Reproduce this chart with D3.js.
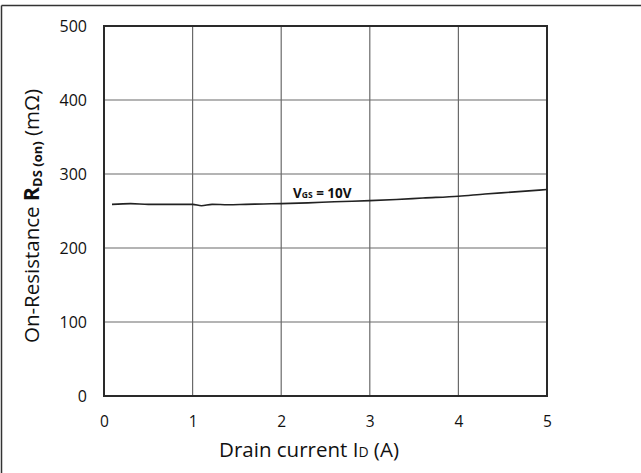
<!DOCTYPE html>
<html><head><meta charset="utf-8">
<script src="https://cdn.jsdelivr.net/npm/d3@7/dist/d3.min.js"></script>
<style>body{margin:0;background:#fff}svg{display:block}text{font-family:"Open Sans",Lato,sans-serif;fill:#111}</style>
</head><body><svg id="c" width="641" height="473"></svg>
<script>
const currentA = [0.09, 0.3, 0.5, 0.8, 1.0, 1.1, 1.22, 1.4, 1.6, 1.8, 2.0, 2.3, 2.6, 3.0, 3.3, 3.6, 4.0, 4.3, 4.6, 5.0];
const rdsOn    = [259, 260, 259, 259, 259, 257, 259, 258.5, 259, 259.5, 260, 261, 262.5, 264, 265.5, 267.5, 270, 273, 275.5, 279];
const xTicks = [0, 1, 2, 3, 4, 5];
const yTicks = [0, 100, 200, 300, 400, 500];
const seriesLabel = "10V";

const svg = d3.select("#c");
const L = 104, R = 547, T = 26, B = 396;
const x = d3.scaleLinear().domain([0, 5]).range([L, R]);
const y = d3.scaleLinear().domain([0, 500]).range([B, T]);
const FONT = "'Open Sans',Lato,sans-serif";

// outer frame
svg.append("line").attr("x1",1.5).attr("x2",1.5).attr("y1",5.5).attr("y2",473).attr("stroke","#333").attr("stroke-width",1.5);
svg.append("line").attr("x1",1.5).attr("x2",641).attr("y1",5.5).attr("y2",5.5).attr("stroke","#333").attr("stroke-width",1.5);

// gridlines
svg.append("g").selectAll("line").data(xTicks.slice(1,-1)).join("line")
  .attr("x1",d=>x(d)).attr("x2",d=>x(d)).attr("y1",T).attr("y2",B).attr("stroke","#6a6a6a").attr("stroke-width",1.2);
svg.append("g").selectAll("line").data(yTicks.slice(1,-1)).join("line")
  .attr("x1",L).attr("x2",R).attr("y1",d=>y(d)).attr("y2",d=>y(d)).attr("stroke","#6a6a6a").attr("stroke-width",1.2);

// axes labels via d3 axes
const xAxis = svg.append("g").attr("transform",`translate(0,${B})`)
  .call(d3.axisBottom(x).tickValues(xTicks).tickSize(0).tickPadding(20).tickFormat(d3.format("d")));
xAxis.select(".domain").remove();
xAxis.attr("font-size",null).attr("font-family",null);
xAxis.selectAll("text").style("font-size","15.5px").style("font-family",FONT).attr("fill","#111");
const yAxis = svg.append("g").attr("transform",`translate(${L},0)`)
  .call(d3.axisLeft(y).tickValues(yTicks).tickSize(0).tickPadding(17).tickFormat(d3.format("d")));
yAxis.select(".domain").remove();
yAxis.attr("font-size",null).attr("font-family",null);
yAxis.selectAll("text").style("font-size","16px").style("font-family",FONT).attr("fill","#111");

// plot border
svg.append("rect").attr("x",L).attr("y",T).attr("width",R-L).attr("height",B-T)
  .attr("fill","none").attr("stroke","#2a2a2a").attr("stroke-width",2);

// curve
svg.append("path").datum(currentA.map((c,i)=>[c, rdsOn[i]]))
  .attr("d", d3.line().x(d=>x(d[0])).y(d=>y(d[1])).curve(d3.curveMonotoneX))
  .attr("fill","none").attr("stroke","#222").attr("stroke-width",1.6);

// series label
const lab = svg.append("text").attr("x",293).attr("y",198).attr("font-weight","bold").attr("font-size",13.5);
lab.append("tspan").text("V");
lab.append("tspan").attr("font-size",8.5).text("GS");
lab.append("tspan").text(" = " + seriesLabel);

// x title
const xt = svg.append("text").attr("x",309).attr("y",457).attr("text-anchor","middle").attr("font-size",20.5);
xt.append("tspan").text("Drain current I");
xt.append("tspan").attr("font-size",14).text("D");
xt.append("tspan").text(" (A)");

// y title
const yt = svg.append("text").attr("transform","translate(39,216) rotate(-90)").attr("text-anchor","middle").attr("font-size",20.5);
yt.append("tspan").text("On-Resistance ");
yt.append("tspan").attr("font-weight","bold").attr("font-size",21.5).text("R");
yt.append("tspan").attr("font-weight","bold").attr("font-size",13).attr("dy",3).text("DS (on)");
yt.append("tspan").attr("dy",-3).text(" (mΩ)");
</script></body></html>
